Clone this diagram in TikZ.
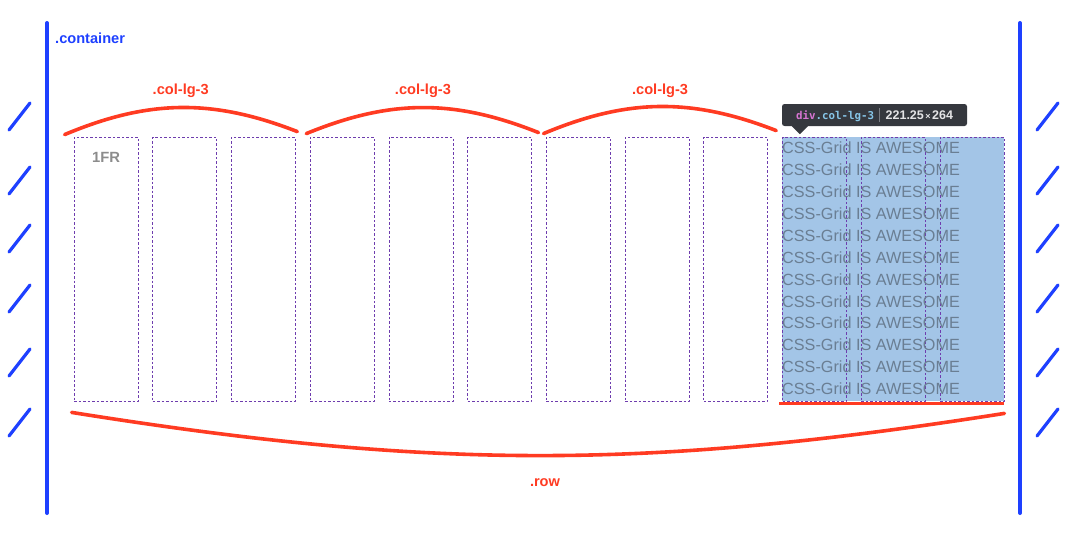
\documentclass[tikz,border=0pt]{standalone}
\usepackage{fontspec}
\setmainfont{Liberation Sans}
\newfontfamily\tipmono{DejaVu Sans Mono}
\usetikzlibrary{backgrounds}
\definecolor{wallblue}{HTML}{1E40FF}
\definecolor{markred}{HTML}{FF3B22}
\definecolor{gridpurple}{HTML}{6E3DAE}
\definecolor{pickblue}{HTML}{A3C5E7}
\definecolor{gridgray}{HTML}{6A7E93}
\definecolor{tipdark}{HTML}{35383E}
\definecolor{tipmag}{HTML}{D875D3}
\definecolor{tipcyan}{HTML}{86C6E8}
\definecolor{tipgray}{HTML}{7A7D83}
\definecolor{tiptext}{HTML}{E4E4E6}
\begin{document}
\begin{tikzpicture}[x=1pt,y=-1pt,line cap=round,line join=round,
  wall/.style={wallblue,line width=4pt},
  hatch/.style={wallblue,line width=3.2pt},
  colbox/.style={draw=gridpurple,line width=0.8pt,dash pattern=on 2.5pt off 2pt,
    minimum width=64pt,minimum height=264pt,inner sep=0pt,line cap=butt},
  redline/.style={markred,line width=3.6pt},
  redlabel/.style={markred,font=\bfseries\fontsize{14.6pt}{16pt}\selectfont},
  gridtext/.style={gridgray,inner sep=0pt,anchor=west,font=\fontsize{16.2pt}{18pt}\selectfont}]
  \useasboundingbox (0,0) rectangle (1067,543);
  \draw[wall] (47,23) -- (47,513);
  \draw[wall] (1020,23) -- (1020,513);
  \foreach \y in {130,194,252,312,376,436} {
    \draw[hatch] (9,\y) -- ++(21,-27);
    \draw[hatch] (1037,\y) -- ++(21,-27);
  }
  \node[wallblue,anchor=west,inner sep=0pt,font=\bfseries\fontsize{14.6pt}{16pt}\selectfont] (cont) at (55,38) {.container};
  \foreach \i in {1,...,12}
    \node[colbox] (c\i) at ({106+78.73*(\i-1)},269) {};
  \begin{scope}[on background layer]
    \fill[pickblue] (c10.north west) rectangle (c12.south east);
  \end{scope}
  \foreach \j in {0,...,11}
    \node[gridtext] (t\j) at (782,{148+21.9*\j}) {CSS-Grid IS AWESOME};
  \node[gray!90,font=\bfseries\fontsize{14.8pt}{16pt}\selectfont] (fr) at ([yshift=-21pt]c1.north) {1FR};
  \draw[redline] ([xshift=-9pt,yshift=2pt]c1.north west) to[bend left=22] ([xshift=1.5pt,yshift=5pt]c3.north east);
  \draw[redline] ([xshift=-3.5pt,yshift=3pt]c4.north west) to[bend left=22] ([xshift=6.5pt,yshift=4pt]c6.north east);
  \draw[redline] ([xshift=-2.5pt,yshift=3pt]c7.north west) to[bend left=22] ([xshift=8pt,yshift=6pt]c9.north east);
  \node[redlabel] (lg1) at ([xshift=-4pt,yshift=46pt]c2.north) {.col-lg-3};
  \node[redlabel] (lg2) at ([xshift=2pt,yshift=46pt]c5.north) {.col-lg-3};
  \node[redlabel] (lg3) at ([xshift=3pt,yshift=46pt]c8.north) {.col-lg-3};
  \draw[redline,line width=3pt,line cap=butt] ([xshift=-3pt,yshift=-2pt]c10.south west) -- ([yshift=-2pt]c12.south east);
  \draw[redline] ([xshift=-2pt,yshift=-11pt]c1.south west) to[bend right=9] ([yshift=-12pt]c12.south east);
  \node[redlabel] (row) at (545,483) {.row};
  \node[fill=tipdark,rounded corners=2.5pt,minimum width=185pt,minimum height=22pt,inner sep=0pt] (tip) at (874.5,115)
    {{\tipmono\bfseries\fontsize{10.8pt}{12pt}\selectfont\textcolor{tipmag}{div}\textcolor{tipcyan}{.col-lg-3}}\hspace{5pt}{\color{tipgray}\rule[-3pt]{0.6pt}{14pt}}\hspace{6pt}{\color{tiptext}\bfseries\fontsize{12.5pt}{14pt}\selectfont 221.25{\fontsize{9pt}{10pt}\selectfont\,×\,}264}};
  \fill[tipdark] ([xshift=10pt]tip.south west) -- ++(8,8) -- ++(8,-8) -- cycle;
\end{tikzpicture}
\end{document}
